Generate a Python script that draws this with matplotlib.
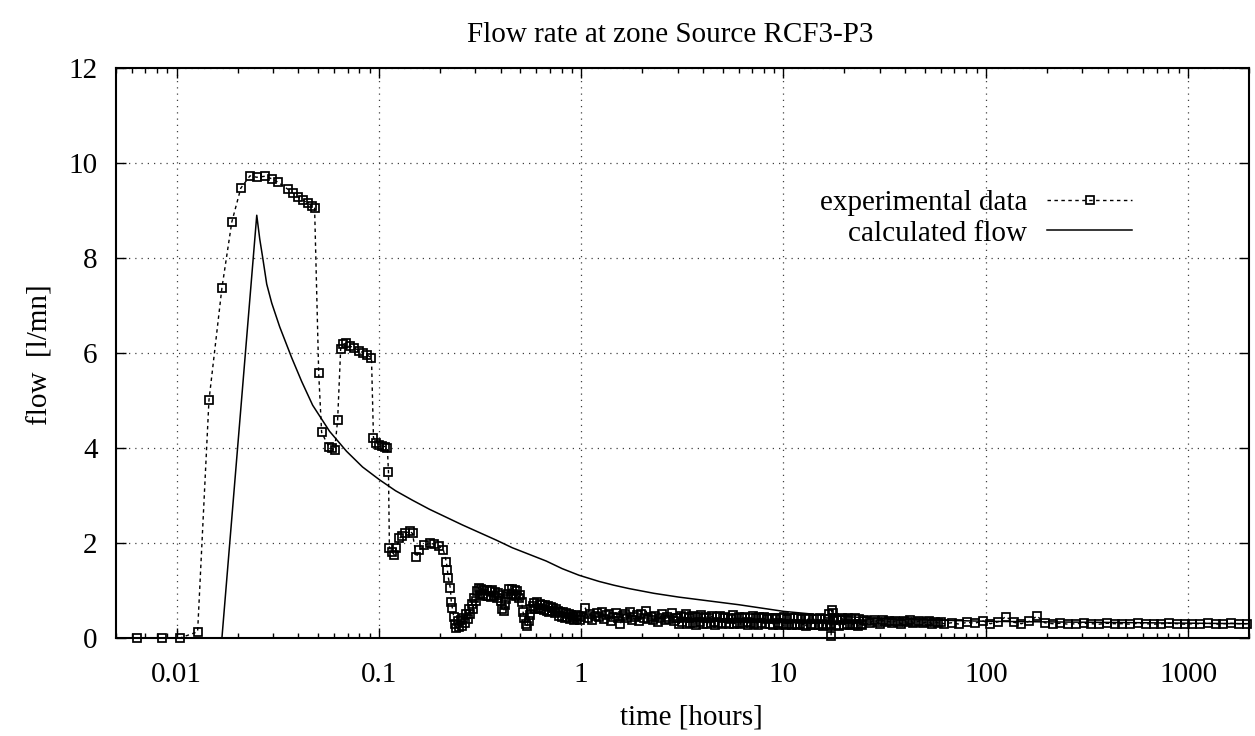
import numpy as np
import matplotlib
matplotlib.use("Agg")
import matplotlib.pyplot as plt
from matplotlib.ticker import LogLocator, FixedLocator, NullFormatter

plt.rcParams['font.family'] = ['Liberation Serif', 'DejaVu Serif']

# ---------------- data ----------------
# experimental data: sparse early part (hours, l/mn)
t_rise = [0.0064, 0.0085, 0.0104, 0.0127, 0.01445, 0.01675, 0.01875, 0.02076, 0.02305,
          0.0249, 0.0273, 0.0295, 0.0316, 0.0354, 0.0375, 0.0397, 0.0420, 0.0444, 0.0465, 0.0481]
v_rise = [0.0, 0.0, 0.0, 0.13, 5.0, 7.37, 8.76, 9.47, 9.73,
          9.70, 9.72, 9.67, 9.60, 9.45, 9.37, 9.29, 9.22, 9.16, 9.10, 9.05]

t_mid = [0.0504, 0.0521, 0.0564, 0.0584, 0.0604, 0.0625, 0.0647, 0.0661, 0.0684, 0.0716,
         0.0757, 0.0801, 0.0839, 0.0878, 0.0919, 0.094, 0.0973, 0.1, 0.1035, 0.107, 0.1101, 0.1115]
v_mid = [5.57, 4.33, 4.03, 3.99, 3.95, 4.58, 6.08, 6.18, 6.20, 6.15,
         6.10, 6.05, 6.00, 5.95, 5.90, 4.22, 4.11, 4.07, 4.05, 4.03, 4.00, 3.50]

t_step = [0.1127, 0.1166, 0.1193, 0.122, 0.1264, 0.1306, 0.1352, 0.1418, 0.1466, 0.1532,
          0.1585, 0.168, 0.178, 0.188, 0.199, 0.2084, 0.2155, 0.218, 0.2204, 0.2254, 0.228]
v_step = [1.90, 1.80, 1.75, 1.90, 2.10, 2.15, 2.20, 2.25, 2.20, 1.70,
          1.85, 1.95, 2.00, 1.97, 1.93, 1.85, 1.60, 1.43, 1.27, 1.05, 0.76]

# dense logging 0.23 h .. 1 h
t_dense_a = (0.2306, 1.0)
v_dense_a = [0.63, 0.45, 0.30, 0.22, 0.36, 0.24, 0.38, 0.26,
             0.42, 0.32, 0.50, 0.40, 0.60, 0.50, 0.72, 0.62, 0.85, 0.78,
             0.98, 1.06, 0.90, 1.04, 0.92, 1.02, 0.88,
             1.00, 0.88, 0.98, 0.86, 1.00, 0.88, 0.96, 0.84, 0.95, 0.90,
             0.78, 0.62, 0.56, 0.70, 0.82, 0.92,
             1.03, 0.90, 1.04, 0.92, 1.02, 0.88, 0.98, 0.85, 0.90,
             0.75, 0.55, 0.42, 0.30, 0.26, 0.36, 0.48, 0.60, 0.68,
             0.74, 0.62, 0.75, 0.64, 0.72,
             0.60, 0.70, 0.58, 0.69, 0.56, 0.67, 0.54, 0.66, 0.57, 0.63, 0.52, 0.60,
             0.56, 0.46, 0.55, 0.44, 0.54, 0.42, 0.52, 0.44, 0.50, 0.40, 0.49,
             0.45, 0.38, 0.48, 0.40, 0.46, 0.37, 0.45]

# scattered 1 h .. 3 h
t_scat_b = (1.05, 2.95)
v_scat_b = [0.63, 0.42, 0.50, 0.38, 0.47, 0.52, 0.44, 0.55, 0.40, 0.48,
            0.50, 0.36, 0.45, 0.53, 0.42, 0.30, 0.46, 0.50, 0.41, 0.55,
            0.38, 0.44, 0.48, 0.35, 0.50, 0.42, 0.57, 0.40, 0.45, 0.38,
            0.47, 0.33, 0.43, 0.50, 0.37, 0.44, 0.40, 0.52, 0.36, 0.42]

# dense 3 h .. 25 h
t_dense_b = (3.0, 25.0)
v_dense_b = [0.42, 0.30, 0.47, 0.33, 0.44, 0.50, 0.30, 0.43, 0.32, 0.46,
             0.31, 0.44, 0.28, 0.45, 0.33, 0.48, 0.30, 0.42, 0.45, 0.29,
             0.43, 0.31, 0.47, 0.34, 0.28, 0.44, 0.32, 0.46, 0.30, 0.42,
             0.45, 0.31, 0.43, 0.29, 0.40, 0.48, 0.30, 0.43, 0.32, 0.45,
             0.29, 0.42, 0.31, 0.44, 0.33, 0.28, 0.43, 0.31, 0.46, 0.30,
             0.41, 0.28, 0.44, 0.31, 0.42, 0.45, 0.29, 0.40, 0.43, 0.30,
             0.41, 0.27, 0.39, 0.43, 0.31, 0.28, 0.42, 0.30, 0.44, 0.28,
             0.40, 0.29, 0.43, 0.28, 0.41, 0.30, 0.27, 0.42, 0.29, 0.40,
             0.28, 0.41, 0.26, 0.39, 0.42, 0.29, 0.27, 0.40, 0.28, 0.39,
             0.27, 0.41, 0.29, 0.26, 0.39, 0.28, 0.40, 0.29, 0.26, 0.38,
             0.42, 0.28, 0.40, 0.26, 0.38, 0.42, 0.27, 0.39, 0.29, 0.41,
             0.27, 0.39, 0.28, 0.41, 0.30, 0.26, 0.39, 0.29, 0.27, 0.37]
t_outl = [16.8, 17.2, 17.3, 17.6]
v_outl = [0.50, 0.05, 0.58, 0.52]

# late data 26 h .. 1950 h
t_late_a = (26.0, 60.0)
v_late_a = [0.36, 0.32, 0.38, 0.34, 0.30, 0.37, 0.33, 0.35, 0.31, 0.36,
            0.34, 0.30, 0.35, 0.33, 0.37, 0.32, 0.34, 0.36, 0.31, 0.33,
            0.35, 0.30, 0.34, 0.32, 0.33]
t_late_b = (62.0, 1950.0)
v_late_b = [0.30, 0.32, 0.29, 0.33, 0.31, 0.36, 0.30, 0.34, 0.45, 0.33,
            0.30, 0.35, 0.46, 0.32, 0.30, 0.31, 0.29, 0.30, 0.31, 0.30,
            0.29, 0.31, 0.30, 0.30, 0.29, 0.31, 0.30, 0.29, 0.30, 0.31,
            0.30, 0.29, 0.30, 0.30, 0.31, 0.29, 0.30, 0.31, 0.30, 0.30]

# calculated flow
t_calc = [0.005, 0.01675, 0.0249, 0.02576, 0.02666, 0.02789, 0.02953, 0.03233, 0.03706,
          0.04152, 0.04705, 0.05705, 0.0692, 0.08301, 0.1007, 0.1208, 0.1465, 0.1777,
          0.2156, 0.2586, 0.3136, 0.3804, 0.4562, 0.5534, 0.6713, 0.8049, 0.9763,
          1.226, 1.453, 1.723, 2.289, 3.041, 4.276, 6.012, 10.02, 16.71, 33.04, 102.9, 2000.0]
v_calc = [0.0, 0.0, 8.9, 8.4, 8.0, 7.45, 7.05, 6.55, 5.9,
          5.4, 4.9, 4.35, 3.93, 3.6, 3.33, 3.1, 2.9, 2.71,
          2.54, 2.38, 2.22, 2.06, 1.9, 1.76, 1.62, 1.46, 1.32,
          1.19, 1.11, 1.04, 0.94, 0.86, 0.78, 0.70, 0.56, 0.47, 0.40, 0.35, 0.30]

x_ticks = [0.01, 0.1, 1, 10, 100, 1000]
x_ticklabels = ["0.01", "0.1", "1", "10", "100", "1000"]
y_ticks = [0, 2, 4, 6, 8, 10, 12]

# ------------- assemble experimental series -------------
def seg(rng, vals):
    return list(np.geomspace(rng[0], rng[1], len(vals))), list(vals)

parts = [(t_rise, v_rise), (t_mid, v_mid), (t_step, v_step),
         seg(t_dense_a, v_dense_a), seg(t_scat_b, v_scat_b),
         seg(t_dense_b, v_dense_b), (t_outl, v_outl),
         seg(t_late_a, v_late_a), seg(t_late_b, v_late_b)]
t_exp = np.concatenate([np.asarray(p[0], float) for p in parts])
v_exp = np.concatenate([np.asarray(p[1], float) for p in parts])
order = np.argsort(t_exp, kind="stable")
t_exp, v_exp = t_exp[order], v_exp[order]

# ---------------- figure ----------------
fig = plt.figure(figsize=(12.55, 7.36), dpi=100)
ax = fig.add_axes([0.0922, 0.1332, 0.9030, 0.7744])

ax.plot(t_exp, v_exp, linestyle=(0, (2.5, 2.5)), lw=1.0, color="black",
        marker="s", markersize=6.2, markerfacecolor="none", markeredgecolor="black",
        markeredgewidth=1.25, clip_on=False, zorder=3, label="experimental data")
ax.plot(t_calc, v_calc, "-", color="black", lw=1.1, zorder=3, label="calculated flow")

ax.set_xscale("log")
ax.set_xlim(0.005, 2000)
ax.set_ylim(0, 12)
ax.xaxis.set_major_locator(FixedLocator(x_ticks))
ax.set_xticklabels(x_ticklabels)
ax.xaxis.set_minor_locator(LogLocator(base=10, subs=np.arange(2, 10)))
ax.xaxis.set_minor_formatter(NullFormatter())
ax.set_yticks(y_ticks)

ax.tick_params(which="both", direction="in", top=True, right=True, labelsize=21, width=1.0)
ax.tick_params(which="major", length=7)
ax.tick_params(which="minor", length=3.8)
ax.tick_params(axis="x", pad=17)
ax.tick_params(axis="y", pad=13)
for s in ax.spines.values():
    s.set_linewidth(1.5)

ax.grid(True, which="major", linestyle=(0, (1, 4)), color="0.25", lw=0.9)

leg = ax.legend(loc="upper right", bbox_to_anchor=(0.8968, 0.787), markerfirst=False,
                frameon=False, handlelength=2.9, handletextpad=0.7, labelspacing=0.15,
                borderpad=0, borderaxespad=0, fontsize=21, numpoints=1)

fig.text(0.534, 0.952, "Flow rate at zone Source RCF3-P3", ha="center", va="center", fontsize=21)
fig.text(0.551, 0.0245, "time [hours]", ha="center", va="center", fontsize=21)
fig.text(0.032, 0.518, "flow  [l/mn]", ha="center", va="center", rotation=90, fontsize=21)

fig.savefig("out.png", dpi=100)
